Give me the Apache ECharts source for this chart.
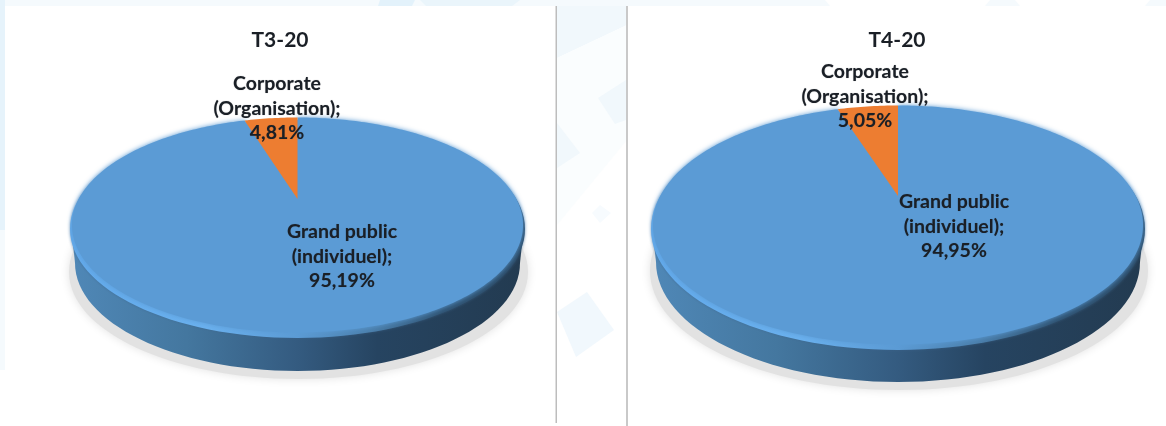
<!DOCTYPE html>
<html><head><meta charset="utf-8">
<style>html,body{margin:0;padding:0;background:#fff}#c{width:1166px;height:426px;filter:blur(.45px)}</style>
<script src="https://cdn.jsdelivr.net/npm/echarts@6/dist/echarts.min.js"></script>
</head><body><div id="c"></div>
<script>
const categories = ['Grand public (individuel)', 'Corporate (Organisation)'];
const labelLines = [['Grand public', '(individuel);'], ['Corporate', '(Organisation);']];
const titles = ['T3-20', 'T4-20'];
const valuesT3 = [95.19, 4.81];
const valuesT4 = [94.95, 5.05];
const sliceColors = ['#5b9bd5', '#ed7d31'];

const chart = echarts.init(document.getElementById('c'), null, {renderer: 'canvas'});
const FONT = 'Lato, "Open Sans", sans-serif';

function ellipse(cx, cy, a, b, style, z2) {
  return {type: 'ellipse', shape: {cx, cy, rx: a, ry: b}, style, z2};
}
function hGrad(stops) {
  return new echarts.graphic.LinearGradient(0, 0, 1, 0, stops.map(s => ({offset: s[0], color: s[1]})));
}
function pieRenderer(values, g) {
  const total = values.reduce((s, v) => s + v, 0);
  return function (params) {
    const i = params.dataIndex;
    const start = values.slice(0, i).reduce((s, v) => s + v, 0) / total * 360;
    const end = start + values[i] / total * 360;
    const k = (g.apexY - g.cy) / g.b;
    const project = deg => {
      const t = deg * Math.PI / 180;
      const u = Math.sin(t), v = -Math.cos(t), d = 1 + k * v;
      return [g.cx + (g.a - 2) * u * Math.sqrt(1 - k * k) / d, g.cy + (g.b - 0.5) * (v + k) / d];
    };
    const pts = [[g.cx, g.apexY]];
    for (let d = start; d < end; d += 1) pts.push(project(d));
    pts.push(project(end));
    const children = [];
    if (i === 0) {
      children.push(ellipse(g.cx + 1, g.cy + g.depth + 9, g.a + 2, g.b - 1,
        {fill: '#e2e2e2', shadowBlur: 10, shadowColor: '#e2e2e2'}, 1));
      const wall = hGrad([[0, '#4f87b6'], [0.25, '#44779f'], [0.5, '#345b80'], [0.68, '#264461'], [1, '#233b51']]);
      children.push(ellipse(g.cx, g.cy + g.depth, g.a - 5, g.b, {fill: wall}, 2));
      children.push({type: 'polygon', shape: {points: [
        [g.cx - g.a + 1, g.cy], [g.cx + g.a - 1, g.cy], [g.cx + g.a - 5, g.cy + g.depth], [g.cx - g.a + 5, g.cy + g.depth]
      ]}, style: {fill: wall}, z2: 2});
      children.push(ellipse(g.cx, g.cy + 4, g.a, g.b + 1, {
        fill: hGrad([[0, '#62aaec'], [0.3, '#6ab1ef'], [0.5, '#5b9bd5'], [0.66, '#4a7fac'], [0.82, '#2f5474'], [1, '#2a4a66']]),
        shadowBlur: 3, shadowColor: 'rgba(60,100,140,.6)'
      }, 3));
    }
    children.push({type: 'polygon', shape: {points: pts}, z2: 4 + i,
      style: {fill: sliceColors[i], shadowBlur: i === 0 ? 5 : 0, shadowColor: sliceColors[i]}});
    const pct = values[i].toFixed(2).replace('.', ',') + '%';
    const la = g.labels[i];
    labelLines[i].concat(pct).forEach((line, n) => {
      children.push({type: 'text', z2: 10, style: {
        x: la[0], y: la[1] + n * 24.5, text: line, align: 'center', verticalAlign: 'middle',
        fill: '#1a1f26', font: '700 19.5px ' + FONT, textShadowBlur: 1, textShadowColor: 'rgba(30,35,40,.4)'
      }});
    });
    return {type: 'group', children};
  };
}
function pieSeries(name, values, g) {
  return {
    type: 'custom', name, coordinateSystem: 'none', silent: true, animation: false, z: 5,
    clip: false, renderItem: pieRenderer(values, g),
    data: categories.map((c, i) => ({name: c, value: values[i]}))
  };
}
const bg = [
  {type:'rect', shape:{x:0,y:0,width:1166,height:6}, style:{fill:'#f5fafd'}},
  {type:'rect', shape:{x:0,y:0,width:5,height:230}, style:{fill:'#e6f3fb'}},
  {type:'rect', shape:{x:0,y:230,width:5,height:140}, style:{fill:'#f5fafd'}},
  {type:'polygon', shape:{points:[[380,0],[415,0],[412,6],[378,6]]}, style:{fill:'#e3f2fb'}},
  {type:'polygon', shape:{points:[[420,0],[520,0],[512,6],[426,6]]}, style:{fill:'#eaf5fb'}},
  {type:'polygon', shape:{points:[[825,0],[990,0],[985,6],[830,6]]}, style:{fill:'#ffffff'}},
  {type:'polygon', shape:{points:[[1015,0],[1150,0],[1145,6],[1020,6]]}, style:{fill:'#ffffff'}},
  {type:'polygon', shape:{points:[[557,6],[627,6],[627,25],[557,58]]}, style:{fill:'#f1f8fc'}},
  {type:'polygon', shape:{points:[[557,58],[627,25],[627,140],[557,225]]}, style:{fill:'#fafdfe'}},
  {type:'polygon', shape:{points:[[587,292],[614,330],[576,357],[557,312]]}, style:{fill:'#f1f8fd'}},
  {type:'polygon', shape:{points:[[598,98],[626,80],[626,120],[615,124]]}, style:{fill:'#f1f8fc'}},
  {type:'polygon', shape:{points:[[557,123],[580,153],[557,168]]}, style:{fill:'#f1f8fc'}},
  {type:'polygon', shape:{points:[[600,205],[611,213],[600,223],[592,213]]}, style:{fill:'#f7fbfe'}},
  {type:'rect', shape:{x:555.5,y:6,width:1.5,height:417}, style:{fill:'#bdbdbd'}},
  {type:'rect', shape:{x:626,y:6,width:2,height:420}, style:{fill:'#c9c9c9'}}
];
chart.setOption({
  animation: false,
  backgroundColor: '#ffffff',
  title: titles.map((t, i) => ({
    text: t, left: [280, 897][i], top: 30, padding: 0, textAlign: 'center',
    textStyle: {fontFamily: FONT, fontSize: 21, fontWeight: 700, color: '#1a1f26'}
  })),
  graphic: {elements: bg.map(e => Object.assign({silent: true, z: 0}, e))},
  series: [
    pieSeries(titles[0], valuesT3, {cx: 297.5, cy: 225, a: 227.5, b: 108, apexY: 199, depth: 38,
      labels: [[342, 232], [277, 84]]}),
    pieSeries(titles[1], valuesT4, {cx: 898, cy: 225, a: 247, b: 120, apexY: 196, depth: 37,
      labels: [[954, 202], [865, 72]]})
  ]
});
</script></body></html>
